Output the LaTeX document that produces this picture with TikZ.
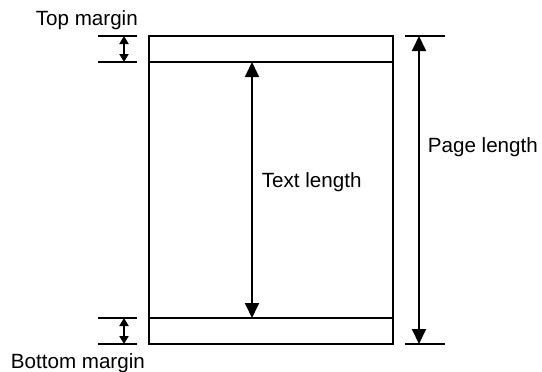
\documentclass[tikz,border=0pt]{standalone}
\usepackage{fontspec}
\setmainfont{Liberation Sans}
\usetikzlibrary{arrows.meta}
\begin{document}
\begin{tikzpicture}[x=1pt,y=-1pt,line width=1.8pt,
  lbl/.style={inner sep=0pt,anchor=base west,font=\fontsize{20.6}{24}\selectfont},
  bigarrow/.style={{Triangle[length=15pt,width=14pt]}-{Triangle[length=15pt,width=14pt]}},
  smallarrow/.style={{Triangle[length=8pt,width=9pt]}-{Triangle[length=8pt,width=9pt]}}]
\useasboundingbox (0,0) rectangle (542,372);
% page
\coordinate (pTL) at (149,36);
\coordinate (pBR) at (393,344);
\coordinate (mTL) at (149,62);
\coordinate (mTR) at (393,62);
\coordinate (mBL) at (149,318);
\coordinate (mBR) at (393,318);
\draw (pTL) rectangle (pBR);
\draw (mTL) -- (mTR);
\draw (mBL) -- (mBR);
% left ticks
\coordinate (lt1a) at (98,36);  \coordinate (lt1b) at (137,36);
\coordinate (lt2a) at (98,62);  \coordinate (lt2b) at (137,62);
\coordinate (lb1a) at (98,318); \coordinate (lb1b) at (137,318);
\coordinate (lb2a) at (98,344); \coordinate (lb2b) at (137,344);
\draw (lt1a) -- (lt1b);
\draw (lt2a) -- (lt2b);
\draw (lb1a) -- (lb1b);
\draw (lb2a) -- (lb2b);
\coordinate (ta1) at (124,36); \coordinate (ta2) at (124,62);
\coordinate (ba1) at (124,318); \coordinate (ba2) at (124,344);
\draw[smallarrow] (ta1) -- (ta2);
\draw[smallarrow] (ba1) -- (ba2);
% right ticks
\coordinate (rt1) at (405,36);  \coordinate (rt2) at (445,36);
\coordinate (rb1) at (405,344); \coordinate (rb2) at (445,344);
\draw (rt1) -- (rt2);
\draw (rb1) -- (rb2);
\coordinate (pa1) at (419,36); \coordinate (pa2) at (419,344);
\draw[bigarrow] (pa1) -- (pa2);
% text length
\coordinate (la1) at (252,62); \coordinate (la2) at (252,318);
\draw[bigarrow] (la1) -- (la2);
% labels
\node[lbl] (topm) at (35,25) {Top margin};
\node[lbl] (botm) at (10,368) {Bottom margin};
\node[lbl] (textl) at (261,187) {Text length};
\node[lbl] (pagel) at (427,152) {Page length};
\end{tikzpicture}
\end{document}
